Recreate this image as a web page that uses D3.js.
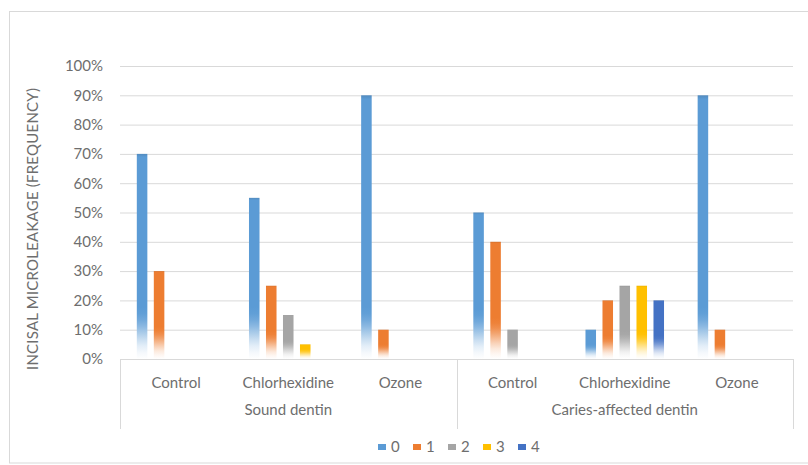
<!DOCTYPE html>
<html>
<head>
<meta charset="utf-8">
<script src="https://cdn.jsdelivr.net/npm/d3@7"></script>
<style>
  html, body { margin: 0; padding: 0; background: #fff; }
  svg { display: block; }
  text { font-family: Lato, "Open Sans", sans-serif; fill: #6e6e6e; }
</style>
</head>
<body>
<svg id="chart" width="808" height="465"></svg>
<script>
// Dentin substrates (outer level) and treatments (inner level)
const substrates = ["Sound dentin", "Caries-affected dentin"];
const treatments = ["Control", "Chlorhexidine", "Ozone"];

// Microleakage scores (legend entries)
const scores = ["0", "1", "2", "3", "4"];
const scoreColors = ["#5B9BD5", "#ED7D31", "#A5A5A5", "#FFC000", "#4472C4"];

// Frequency (%) of each score, per substrate × treatment (6 categories in order)
const score0 = [70, 55, 90, 50, 10, 90];
const score1 = [30, 25, 10, 40, 20, 10];
const score2 = [0, 15, 0, 10, 25, 0];
const score3 = [0, 5, 0, 0, 25, 0];
const score4 = [0, 0, 0, 0, 20, 0];

const yTicks = [0, 10, 20, 30, 40, 50, 60, 70, 80, 90, 100];
const yTitle = "INCISAL MICROLEAKAGE (FREQUENCY)";

const seriesValues = [score0, score1, score2, score3, score4];
const categories = [];
substrates.forEach(s => treatments.forEach(t => categories.push({ substrate: s, treatment: t, key: s + "|" + t })));

const svg = d3.select("#chart");
const plot = { left: 120, right: 793, top: 66, bottom: 359 };
const textColor = "#6e6e6e";

// Chart frame
svg.append("rect")
  .attr("x", 9.5).attr("y", 11.5)
  .attr("width", 820).attr("height", 451.5)
  .attr("fill", "#fff").attr("stroke", "#d9d9d9");

const x0 = d3.scaleBand().domain(categories.map(c => c.key)).range([plot.left, plot.right]).padding(0);
const xOuter = d3.scaleBand().domain(substrates).range([plot.left, plot.right]).padding(0);
const clusterWidth = 85;
const x1 = d3.scaleBand().domain(scores).range([0, clusterWidth]).paddingInner(0.38).paddingOuter(0.19);
const clusterOffset = (x0.bandwidth() - clusterWidth) / 2;
const y = d3.scaleLinear().domain([0, 100]).range([plot.bottom, plot.top]);

// Horizontal gridlines
svg.append("g")
  .attr("transform", `translate(${plot.left},0)`)
  .call(d3.axisLeft(y).tickValues(yTicks.filter(d => d > 0)).tickSize(-(plot.right - plot.left)).tickFormat(""))
  .call(g => g.select(".domain").remove())
  .call(g => g.selectAll("line").attr("stroke", "#d9d9d9").attr("stroke-width", 1));

// Y tick labels
svg.append("g")
  .attr("transform", `translate(${plot.left - 17},0)`)
  .call(d3.axisLeft(y).tickValues(yTicks).tickSize(0).tickPadding(0).tickFormat(d => d + "%"))
  .call(g => g.select(".domain").remove())
  .call(g => g.selectAll("text").attr("font-size", 15).attr("fill", textColor).style("font-family", "Lato, sans-serif"));

// Vertical fade for each bar: solid colour at the top, easing to white at the base
const defs = svg.append("defs");
const bars = [];
seriesValues.forEach((vals, si) => {
  vals.forEach((v, ci) => {
    if (v > 0) bars.push({ series: si, cat: ci, value: v });
  });
});
bars.forEach((b, i) => {
  const h = y(0) - y(b.value);
  const fade = Math.min(52, 0.3 * h + 6);
  const start = Math.max(0, 1 - fade / h);
  const grad = defs.append("linearGradient")
    .attr("id", "fade" + i)
    .attr("x1", 0).attr("y1", 0).attr("x2", 0).attr("y2", 1);
  const c = scoreColors[b.series];
  const mix = d3.interpolateRgb(c, "#fff");
  grad.append("stop").attr("offset", 0).attr("stop-color", d3.color(c).darker(0.3));
  grad.append("stop").attr("offset", Math.min(0.015, start)).attr("stop-color", c);
  grad.append("stop").attr("offset", start).attr("stop-color", c);
  d3.range(1, 8).forEach(k => {
    const t = k / 8;
    grad.append("stop")
      .attr("offset", start + (1 - start) * t)
      .attr("stop-color", mix(d3.easeSinInOut(t) * 0.97));
  });
  grad.append("stop").attr("offset", 1).attr("stop-color", "#fff");
});

svg.append("g").selectAll("rect")
  .data(bars)
  .join("rect")
  .attr("x", d => x0(categories[d.cat].key) + clusterOffset + x1(scores[d.series]))
  .attr("width", x1.bandwidth())
  .attr("y", d => y(d.value))
  .attr("height", d => y(0) - y(d.value))
  .attr("fill", (d, i) => `url(#fade${i})`);

// Category axis: baseline, substrate dividers, treatment and substrate labels
const axisColor = "#d9d9d9";
svg.append("line")
  .attr("x1", plot.left).attr("x2", plot.right)
  .attr("y1", plot.bottom + 0.5).attr("y2", plot.bottom + 0.5)
  .attr("stroke", axisColor);

const dividers = substrates.map(s => xOuter(s)).concat([plot.right]);
svg.append("g").selectAll("line")
  .data(dividers)
  .join("line")
  .attr("x1", d => Math.round(d) + 0.5).attr("x2", d => Math.round(d) + 0.5)
  .attr("y1", plot.bottom).attr("y2", 429)
  .attr("stroke", axisColor);

svg.append("g")
  .attr("transform", `translate(0,${plot.bottom})`)
  .call(d3.axisBottom(x0).tickSize(0).tickPadding(0).tickFormat(k => k.split("|")[1]))
  .call(g => g.select(".domain").remove())
  .call(g => g.selectAll("text")
    .attr("y", 24).attr("dy", "0.35em")
    .attr("font-size", 15).attr("fill", textColor).style("font-family", "Lato, sans-serif"));

svg.append("g")
  .attr("transform", `translate(0,${plot.bottom})`)
  .call(d3.axisBottom(xOuter).tickSize(0).tickPadding(0))
  .call(g => g.select(".domain").remove())
  .call(g => g.selectAll("text")
    .attr("y", 51).attr("dy", "0.35em")
    .attr("font-size", 15).attr("fill", textColor).style("font-family", "Lato, sans-serif"));

// Y axis title
svg.append("text")
  .attr("transform", `translate(38,229) rotate(-90)`)
  .attr("text-anchor", "middle")
  .attr("font-size", 15)
  .attr("textLength", 282)
  .attr("lengthAdjust", "spacing")
  .attr("fill", textColor)
  .text(yTitle);

// Legend
const legendStep = 35;
const legendStart = 378;
const legend = svg.append("g").attr("transform", `translate(${legendStart},447)`);
const items = legend.selectAll("g")
  .data(scores)
  .join("g")
  .attr("transform", (d, i) => `translate(${i * legendStep},0)`);
items.append("rect")
  .attr("x", 0).attr("y", -3).attr("width", 8).attr("height", 6)
  .attr("fill", (d, i) => scoreColors[i]);
items.append("text")
  .attr("x", 13).attr("y", 0).attr("dy", "0.35em")
  .attr("font-size", 15).attr("fill", textColor)
  .text(d => d);
</script>
</body>
</html>
